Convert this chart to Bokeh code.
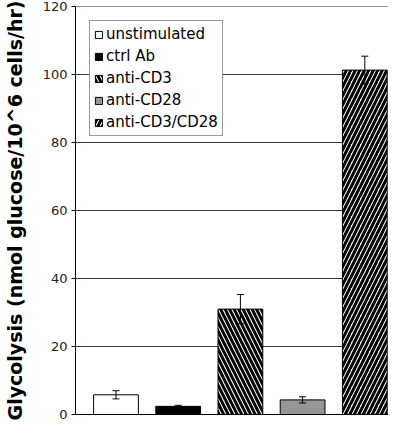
from bokeh.plotting import figure
from bokeh.models import (Range1d, ColumnDataSource, Whisker, TeeHead, Legend,
                          LegendItem, FixedTicker)
from bokeh.embed import file_html
from bokeh.resources import INLINE

categories = ["unstimulated", "ctrl Ab", "anti-CD3", "anti-CD28", "anti-CD3/CD28"]
values = [5.8, 2.4, 31.0, 4.3, 101.3]
errors = [1.2, 0.3, 4.3, 0.9, 4.1]
y_ticks = [0, 20, 40, 60, 80, 100, 120]

fills = ["white", "black", "white", "#969696", "white"]
hatches = [None, None, "left_diagonal_line", None, "right_diagonal_line"]

p = figure(width=388, height=422,
           x_range=Range1d(-0.651, 4.381), y_range=Range1d(0, 120.01),
           output_backend="svg", toolbar_location=None,
           min_border_left=71, min_border_right=0, min_border_top=6,
           min_border_bottom=8)
p.outline_line_color = None
p.background_fill_color = "white"
p.border_fill_color = "white"

# y axis
yax = p.yaxis[0]
yax.ticker = FixedTicker(ticks=y_ticks)
yax.minor_tick_line_color = None
yax.major_tick_in = 0
yax.major_tick_out = 4
yax.major_tick_line_color = "black"
yax.axis_line_color = "black"
yax.major_label_text_font = "DejaVu Sans"
yax.major_label_text_font_size = "13px"
yax.major_label_text_color = "#222222"
yax.major_label_standoff = 4
yax.axis_label = "Glycolysis (nmol glucose/10^6 cells/hr)"
yax.axis_label_text_font = "DejaVu Sans"
yax.axis_label_text_font_style = "bold"
yax.axis_label_text_font_size = "19px"
yax.axis_label_text_color = "black"
yax.axis_label_standoff = 14

# x axis: line only
xax = p.xaxis[0]
xax.ticker = FixedTicker(ticks=[])
xax.major_tick_out = 0
xax.major_tick_in = 0
xax.minor_tick_line_color = None
xax.major_label_standoff = 0
xax.major_label_text_font_size = "0px"
xax.axis_line_color = "black"

p.xgrid.visible = False
p.ygrid.ticker = FixedTicker(ticks=y_ticks)
p.ygrid.grid_line_color = "#333333"
p.ygrid.grid_line_width = 1

items = []
for i, cat in enumerate(categories):
    kw = {}
    if hatches[i] is not None:
        kw = dict(hatch_pattern=hatches[i], hatch_color="black",
                  hatch_scale=9, hatch_weight=3)
    r = p.vbar(x=[i], top=[values[i]], bottom=0, width=0.72,
               fill_color=fills[i], line_color="black", line_width=1, **kw)
    items.append(LegendItem(label=cat, renderers=[r]))

src = ColumnDataSource(dict(
    x=list(range(len(categories))),
    upper=[v + e for v, e in zip(values, errors)],
    lower=[v - e for v, e in zip(values, errors)],
))
wh = Whisker(base="x", upper="upper", lower="lower", source=src,
             line_color="black", line_width=1, level="overlay",
             upper_head=TeeHead(size=7, line_color="black", line_width=1),
             lower_head=TeeHead(size=7, line_color="black", line_width=1))
p.add_layout(wh)

legend = Legend(items=items, location="top_left", margin=14,
                border_line_color="#333333", border_line_width=1,
                background_fill_color="white", background_fill_alpha=1,
                label_text_font="DejaVu Sans", label_text_font_size="15px",
                label_text_color="black",
                glyph_width=9, glyph_height=9, label_standoff=3,
                padding=4, spacing=4, label_height=16)
p.add_layout(legend)

open("out.html", "w").write(file_html(p, INLINE))
